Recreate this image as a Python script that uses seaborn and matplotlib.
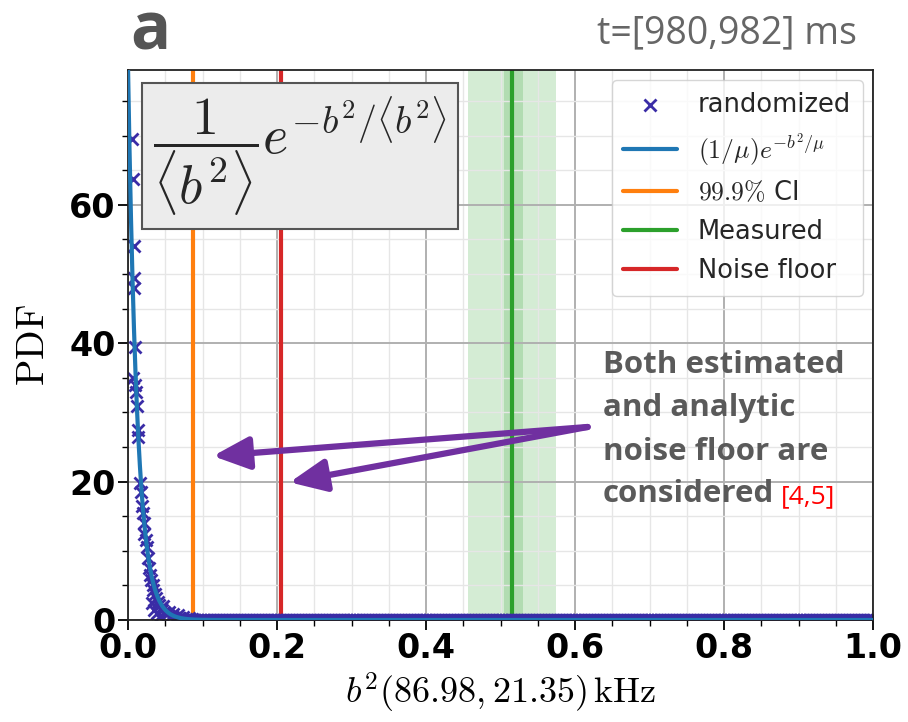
import numpy as np
import matplotlib
matplotlib.use("Agg")
import matplotlib.pyplot as plt
import seaborn as sns
import pandas as pd

# ---------------- data ----------------
# randomized histogram (non-zero part), b^2 in kHz and PDF value
rand_b2 = [0.006, 0.007, 0.008, 0.0082, 0.0085, 0.009, 0.0072, 0.0092, 0.011, 0.012,
           0.013, 0.014, 0.016, 0.017, 0.019, 0.020, 0.021, 0.022, 0.024, 0.026,
           0.027, 0.028, 0.030, 0.031, 0.033, 0.034, 0.036, 0.038, 0.040, 0.042,
           0.044, 0.046, 0.048, 0.050, 0.052, 0.055, 0.058, 0.061, 0.064, 0.067,
           0.070, 0.074, 0.078, 0.082, 0.086, 0.032, 0.035, 0.039, 0.043, 0.047]
rand_pdf = [69.5, 63.8, 54.0, 49.5, 48.0, 39.5, 35.0, 34.0, 33.0, 31.0,
            27.5, 26.5, 19.8, 18.5, 16.5, 15.5, 14.0, 12.5, 11.5, 10.5,
            9.0, 7.5, 6.5, 5.8, 5.0, 4.3, 3.8, 3.2, 2.6, 2.1,
            1.8, 1.4, 1.2, 1.0, 0.8, 1.1, 0.6, 0.9, 0.4, 0.7,
            0.3, 0.5, 0.2, 0.3, 0.2, 2.5, 1.5, 1.0, 0.6, 2.0]
# empty bins beyond the decay (PDF = 0)
zero_start, zero_stop, zero_step = 0.088, 1.0, 0.002

mu = 0.0125            # fitted mean <b^2>
ci_999 = 0.087         # 99.9% CI
noise_floor = 0.205
measured = 0.515
measured_band = (0.456, 0.575)
measured_inner = (0.505, 0.530)

x_ticks = [0.0, 0.2, 0.4, 0.6, 0.8, 1.0]
y_ticks = [0, 20, 40, 60]

note_lines = ['Both estimated', 'and analytic', 'noise floor are', 'considered']

# ---------------- plot ----------------
sns.set_style("whitegrid")
plt.rcParams['font.family'] = ['DejaVu Sans']
plt.rcParams['mathtext.fontset'] = 'cm'

fig = plt.figure(figsize=(9.08, 7.22), dpi=100)
ax = fig.add_axes([128/908, 1-620/722, 745/908, 550/722])
ax.set_facecolor('white')

zb = np.arange(zero_start, zero_stop + 1e-9, zero_step)
df = pd.DataFrame({'b2': list(rand_b2) + list(zb),
                   'pdf': list(rand_pdf) + [0.0]*len(zb)})

mcol = '#3a2ca6'
ax.axvspan(*measured_band, color='#2ca02c', alpha=0.2, lw=0, zorder=1)
ax.axvspan(*measured_inner, color='#2ca02c', alpha=0.2, lw=0, zorder=1)

sns.scatterplot(data=df, x='b2', y='pdf', marker='x', s=75, color=mcol,
                linewidth=2.0, ax=ax, label='randomized', zorder=2.5)

bb = np.linspace(0, 1, 3000)
fit = pd.DataFrame({'b2': bb, 'pdf': np.exp(-bb/mu)/mu})
sns.lineplot(data=fit, x='b2', y='pdf', color='#1f77b4', lw=3, ax=ax,
             label=r'$(1/\mu)e^{-b^2/\mu}$', zorder=3)

ax.axvline(ci_999, color='#ff7f0e', lw=3, label=r'$99.9\%$ CI', zorder=2)
ax.axvline(measured, color='#2ca02c', lw=3, label='Measured', zorder=2)
ax.axvline(noise_floor, color='#d62728', lw=3, label='Noise floor', zorder=2)

ax.set_xlim(0, 1.0)
ax.set_ylim(0, 79.5)
ax.set_xticks(x_ticks)
ax.set_yticks(y_ticks)
ax.set_xticklabels([f'{v:.1f}' for v in x_ticks], fontsize=24, fontweight='bold', color='black')
ax.set_yticklabels([str(v) for v in y_ticks], fontsize=24, fontweight='bold', color='black')
ax.minorticks_on()
ax.tick_params(which='major', direction='out', length=7, width=1.3, bottom=True, left=True,
               pad=2, color='black')
ax.tick_params(which='minor', direction='out', length=4, width=1.0, bottom=True, left=True,
               color='black')
ax.set_axisbelow('line')
ax.grid(which='major', color='#b0b0b0', lw=1.4)
ax.grid(which='minor', color='#e6e6e6', lw=1.0)
for s in ax.spines.values():
    s.set_color('#222222')
    s.set_linewidth(1.3)

ax.set_xlabel(r'$b^2(86.98, 21.35)\,\mathrm{kHz}$', fontsize=26, labelpad=4, color='black')
ax.set_ylabel(r'$\mathrm{PDF}$', fontsize=28, labelpad=12, color='black')

leg = ax.legend(loc='upper right', fontsize=18.5, frameon=True, fancybox=True,
                borderaxespad=0.4, handlelength=2.1, labelspacing=0.5, borderpad=0.45)
leg.get_frame().set_edgecolor('#cccccc')

# formula box
ax.text(0.231, 0.843, r'$\dfrac{1}{\langle b^2\rangle}e^{-b^2/\langle b^2\rangle}$',
        transform=ax.transAxes, ha='center', va='center', fontsize=39, zorder=6,
        bbox=dict(boxstyle='square,pad=0.2', facecolor='#ececec', edgecolor='#555555', lw=1.5))

# arrows
acol = '#7030a0'
start = (0.617, 27.9)
for end in [(0.114, 23.7), (0.217, 19.9)]:
    ax.annotate('', xy=end, xytext=start,
                arrowprops=dict(arrowstyle='-|>,head_length=1.0,head_width=0.45',
                                color=acol, lw=4.5, mutation_scale=22,
                                shrinkA=0, shrinkB=0), zorder=7)

# explanatory text
tcol = '#5a5a5a'
line_y = [365, 408, 452, 494]
texts = []
for s, py in zip(note_lines, line_y):
    texts.append(ax.text(0.637, (620-py)/550, s, transform=ax.transAxes, ha='left',
                         va='center', fontsize=22.5, fontweight='bold', color=tcol,
                         family='Open Sans', zorder=8))
ax.annotate('[4,5]', xy=(1, 0), xycoords=texts[-1], xytext=(5, 0), textcoords='offset points',
            ha='left', va='bottom', fontsize=19, color='red', family='Open Sans', zorder=8)

# header
fig.text(130/908, 1-50/722, 'a', ha='left', va='baseline', fontsize=48, fontweight='bold',
         color='#555555', family='Open Sans')
fig.text(857/908, 1-33/722, 't=[980,982] ms', ha='right', va='center', fontsize=27,
         color='#666666', family='Open Sans')

fig.savefig('out.png', dpi=100)
